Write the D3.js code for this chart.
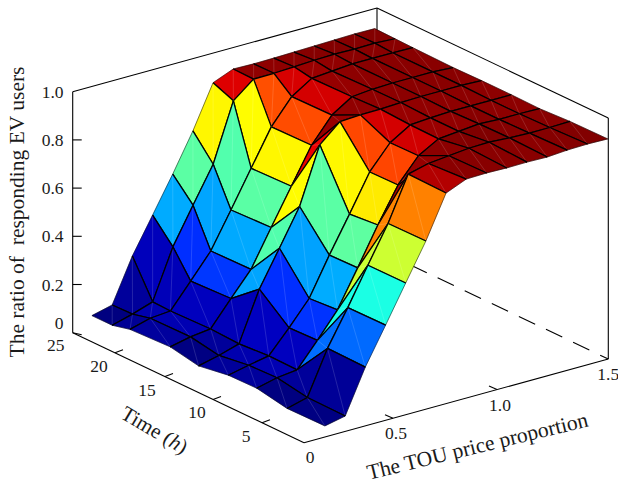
<!DOCTYPE html>
<html>
<head>
<meta charset="utf-8">
<title>EV users surface</title>
<script src="https://cdn.jsdelivr.net/npm/d3@7"></script>
<style>
html, body { margin: 0; padding: 0; background: #fff; }
svg { display: block; }
text { font-family: "Liberation Serif", serif; fill: #1a1a1a; white-space: pre; }
</style>
</head>
<body>
<div id="chart"></div>
<script>
// grid of the surface
var price = [0.108, 0.222, 0.335, 0.449, 0.553, 0.650, 0.747, 0.844, 0.942, 1.036, 1.127, 1.218, 1.308, 1.399, 1.49];
var time = [-0.2, 4.3, 7.5, 10.4, 13.5, 16.4, 20.5, 22.6, 25];

// ratio per time row, one value per price step
var row0 = [.051, .069, .249, .400, .552, .703, .879, .914, .916, .914, .915, .913, .919, .921, .919];
var row1 = [.049, .071, .252, .398, .551, .701, .883, .904, .913, .921, .923, .918, .915, .915, .917];
var row2 = [.073, .093, .103, .202, .306, .457, .612, .755, .853, .900, .908, .916, .912, .912, .910];
var row3 = [.071, .089, .105, .198, .297, .454, .601, .753, .851, .902, .908, .912, .912, .912, .912];
var row4 = [.051, .071, .096, .300, .447, .597, .830, .903, .908, .909, .913, .915, .915, .915, .912];
var row5 = [.074, .092, .102, .205, .303, .454, .602, .749, .851, .904, .912, .915, .915, .915, .910];
var row6 = [.067, .090, .097, .198, .300, .447, .597, .746, .848, .901, .908, .915, .915, .915, .913];
var row7 = [.049, .072, .100, .305, .455, .602, .842, .909, .910, .914, .918, .920, .918, .920, .915];
var row8 = [.049, .070, .250, .397, .544, .700, .877, .911, .909, .910, .912, .914, .916, .918, .917];
var ratio = [row0, row1, row2, row3, row4, row5, row6, row7, row8];

var priceTicks = [0, 0.5, 1.0, 1.5];
var timeTicks = [0, 5, 10, 15, 20, 25];
var ratioTicks = [0, 0.2, 0.4, 0.6, 0.8, 1.0];

var width = 618, height = 486;

// box corners on the page
var origin = [304, 442.7];
var xVec = [304.3, -83.7];
var yVec = [-231.3, -110];
var zVec = [0, -241];

// the hand labelled corner ticks make both floor axes uneven
var xScale = d3.scaleLinear().domain(priceTicks).range([0, 89 / 304.3, 193 / 304.3, 1]);
var yScale = d3.scaleLinear().domain(timeTicks).range([0, 42 / 231.3, 91 / 231.3, 139 / 231.3, 189 / 231.3, 1]);
var zScale = d3.scaleLinear().domain([0, 1]).range([0, 1]);

function project(x, y, z) {
	var u = xScale(x), v = yScale(y), w = zScale(z);
	return [
		origin[0] + u * xVec[0] + v * yVec[0] + w * zVec[0],
		origin[1] + u * xVec[1] + v * yVec[1] + w * zVec[1]
	];
}

// jet colormap
var allRatio = d3.merge(ratio);
var zMin = d3.min(allRatio), zMax = d3.max(allRatio);
var jet = d3.scaleLinear()
	.domain([0, 0.125, 0.375, 0.625, 0.875, 1])
	.range(["#000080", "#0000ff", "#00ffff", "#ffff00", "#ff0000", "#800000"])
	.clamp(true);
function faceColor(v) {
	return jet((v - zMin) / (zMax - zMin));
}

var svg = d3.select("#chart").append("svg").attr("width", width).attr("height", height);
var line = d3.line();

function drawLine(g, a, b, w) {
	return g.append("path").attr("d", line([a, b])).attr("fill", "none").attr("stroke", "#000").attr("stroke-width", w || 1.1);
}

// box behind the surface
var box = svg.append("g");
var c000 = project(0, 0, 0), c100 = project(1.5, 0, 0), c010 = project(0, 25, 0), c110 = project(1.5, 25, 0);
var c101 = project(1.5, 0, 1), c011 = project(0, 25, 1), c111 = project(1.5, 25, 1);
drawLine(box, c011, c111);
drawLine(box, c111, c101);
drawLine(box, c111, c110);
drawLine(box, c100, c101);
drawLine(box, c010, c011);
drawLine(box, c100, c110).attr("stroke-dasharray", "18,12").attr("stroke-dashoffset", 9);
drawLine(box, c000, c100);
drawLine(box, c000, c010);

// ticks
priceTicks.slice(1, 3).forEach(function(t) {
	var p = project(t, 0, 0);
	drawLine(box, p, [p[0] - 8, p[1] - 3.5]);
});
timeTicks.slice(1, 5).forEach(function(t) {
	var p = project(0, t, 0);
	drawLine(box, p, [p[0] + 8, p[1] - 3]);
});
ratioTicks.slice(1, 5).forEach(function(t) {
	var p = project(0, 25, t);
	drawLine(box, p, [p[0] + 9, p[1]]);
});
drawLine(box, c010, [c010[0] + 9, c010[1] + 2]);

// surface, far corner first so nearer faces cover it
var surface = svg.append("g");
for (var j = time.length - 2; j >= 0; j--) {
	for (var i = price.length - 2; i >= 0; i--) {
		var a = project(price[i], time[j], ratio[j][i]);
		var b = project(price[i + 1], time[j], ratio[j][i + 1]);
		var c = project(price[i + 1], time[j + 1], ratio[j + 1][i + 1]);
		var d = project(price[i], time[j + 1], ratio[j + 1][i]);
		var col = faceColor(ratio[j][i]);
		surface.append("path")
			.attr("d", line([a, b, c, d]) + "Z")
			.attr("fill", col)
			.attr("stroke", col)
			.attr("stroke-width", 0.4);
		// seam of the two triangles in every face
		surface.append("path")
			.attr("d", line([a, c]))
			.attr("stroke", "#fff")
			.attr("stroke-opacity", 0.24)
			.attr("stroke-width", 0.6);
		drawLine(surface, a, b, j == 0 ? 0.5 : 1.25);
		drawLine(surface, b, c, i == price.length - 2 ? 0.5 : 1.25);
		drawLine(surface, c, d, j == time.length - 2 ? 0.5 : 1.25);
		drawLine(surface, d, a, i == 0 ? 0.5 : 1.25);
	}
}

// tick labels
var labels = svg.append("g").attr("font-size", 17.5);
ratioTicks.forEach(function(t) {
	var p = project(0, 25, t);
	labels.append("text")
		.attr("x", 63.5)
		.attr("y", t == 0 ? p[1] - 4 : p[1] + 6)
		.attr("text-anchor", "end")
		.text(t == 0 ? "0" : d3.format(".1f")(t));
});
timeTicks.slice(1).forEach(function(t) {
	var p = project(0, t, 0);
	labels.append("text")
		.attr("x", p[0] + (t == 25 ? -17 : t == 15 ? -18 : -16))
		.attr("y", p[1] + (t == 25 ? 18 : 19))
		.attr("text-anchor", "middle")
		.text(t);
});
priceTicks.forEach(function(t) {
	var p = project(t, 0, 0);
	labels.append("text")
		.attr("x", p[0] + (t == 0 ? 6 : t == 1.5 ? 0 : 3))
		.attr("y", p[1] + (t == 0 ? 20 : 21))
		.attr("text-anchor", "middle")
		.text(t == 0 ? "0" : d3.format(".1f")(t));
});

// axis titles
var titles = svg.append("g").attr("font-size", 21.5);
titles.append("text")
	.attr("transform", "translate(24,212) rotate(-90)")
	.attr("text-anchor", "middle")
	.text("The ratio of  responding EV users");
var timeTitle = titles.append("text")
	.attr("transform", "translate(151,436) rotate(30.5)")
	.attr("font-size", 21)
	.attr("text-anchor", "middle")
	.text("Time (");
timeTitle.append("tspan").attr("font-style", "italic").text("h");
timeTitle.append("tspan").text(")");
titles.append("text")
	.attr("transform", "translate(479,453) rotate(-13.7)")
	.attr("text-anchor", "middle")
	.text("The TOU price proportion");
</script>
</body>
</html>
